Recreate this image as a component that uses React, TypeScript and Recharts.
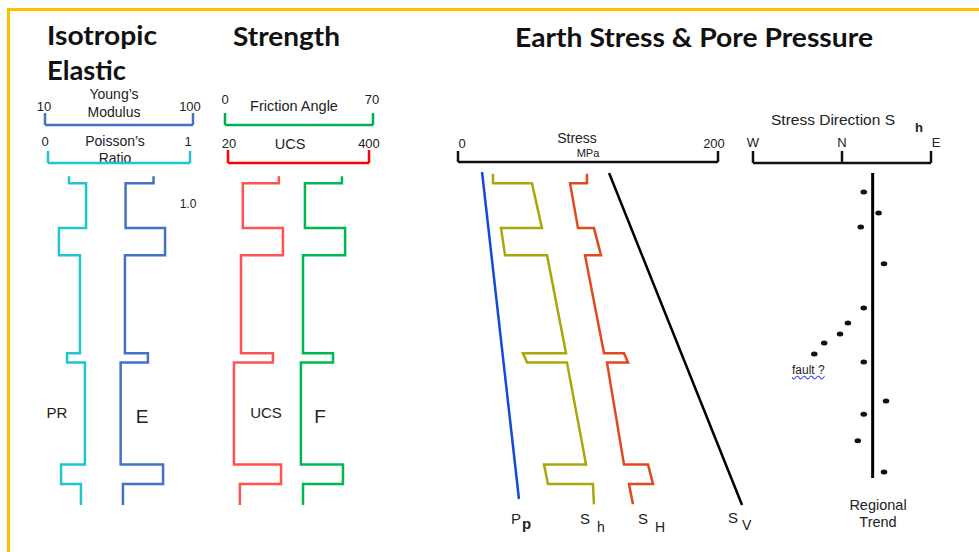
import React from 'react';
import { LineChart, ComposedChart, Line, Scatter, XAxis, YAxis } from 'recharts';

// relative depth 0 (top of section) .. 100 (base); layer boundaries shared by every track
const LAYER_BREAKS = [3.4, 16.8, 24.9, 54.3, 57.0, 87.6, 93.4];
const LOG_START = 1.3;
const LOG_END = 99.7;

// one value per layer (8 layers)
const YOUNGS_MODULUS = [76, 59, 83, 58.6, 72.6, 56, 81.8, 57.4]; // GPa
const POISSONS_RATIO = [0.148, 0.268, 0.077, 0.225, 0.134, 0.26, 0.092, 0.232];
const UCS = [157, 60, 168, 55, 141, 36, 163, 52]; // MPa
const FRICTION_ANGLE = [55.3, 37.8, 56.8, 36.9, 51.1, 35.9, 55.8, 36.9]; // deg

// stresses (MPa) at top and base of each layer
const STRESS_START = 0.5;
const STRESS_END = 99.5;
const SHMIN_TOP = [26.9, 56.9, 33.1, 68.5, 50.0, 83.8, 66.2, 103.8];
const SHMIN_BASE = [26.9, 64.6, 36.2, 83.1, 53.1, 98.5, 69.2, 104.6];
const SHMAX_TOP = [99.2, 86.2, 104.6, 97.7, 127.7, 114.6, 146.2, 131.5];
const SHMAX_BASE = [99.2, 92.3, 110.0, 112.3, 130.8, 127.7, 150.0, 134.6];
const PP_DEPTH = [0, 97.9];
const PORE_PRESSURE = [18.5, 46.9];
const SV_DEPTH = [0.3, 99.7];
const VERTICAL_STRESS = [116.2, 218.5];

// Sh azimuth, degrees from N (W = -90, E = 90)
const DIR_DEPTH = [6.0, 12.3, 16.5, 27.5, 40.7, 45.2, 48.5, 51.2, 54.5, 56.9, 68.6, 72.5, 80.5, 89.8];
const DIR_AZIMUTH = [22, 37, 19, 42.5, 22, 6, -2, -18, -28, 22, 44.5, 22, 16, 42.5];
const TREND_DEPTH = [0.3, 91.6];
const REGIONAL_TREND = 31;

const W = 979;
const H = 552;
const PLOT_TOP = 172;
const PLOT_BOTTOM = 506;
const SANS = '"Liberation Sans", Arial, sans-serif';

type Span = { lo: number; hi: number; left: number; right: number };

const E_SPAN: Span = { lo: 10, hi: 100, left: 45, right: 193 };
const PR_SPAN: Span = { lo: 0, hi: 1, left: 48, right: 190 };
const FA_SPAN: Span = { lo: 0, hi: 70, left: 225, right: 373 };
const UCS_SPAN: Span = { lo: 20, hi: 400, left: 228, right: 369 };
const STRESS_SCALE: Span = { lo: 0, hi: 200, left: 458, right: 718 };
const STRESS_PLOT: Span = { lo: 0, hi: 240, left: 458, right: 770 };
const DIR_SPAN: Span = { lo: -90, hi: 90, left: 753, right: 931 };

const layered = (start: number, end: number, top: number[], base: number[]) => {
  const edges = [start, ...LAYER_BREAKS, end];
  return top.flatMap((v, i) => [
    { depth: edges[i], value: v },
    { depth: edges[i + 1], value: base[i] },
  ]);
};
const pairs = (depths: number[], values: number[]) => depths.map((d, i) => ({ depth: d, value: values[i] }));

const abs: React.CSSProperties = { position: 'absolute', left: 0, top: 0 };

function Bracket(props: {
  span: Span; y: number; ticks: number[]; labels: string[]; color: string;
  tickSize?: number; gap?: number; dxs?: number[];
}) {
  const { span, y, ticks, labels, color, tickSize = 12, gap = 3, dxs = [] } = props;
  const width = span.right + 12;
  const renderTick = (p: any) => (
    <text x={p.x + (dxs[p.index] ?? 0)} y={p.y} textAnchor="middle" fontSize={13} fill="#222">
      {labels[p.index]}
    </text>
  );
  return (
    <div style={abs}>
      <LineChart width={width} height={y + 4} data={ticks.map((v) => ({ value: v }))}
        margin={{ top: 0, right: width - span.right, bottom: 3, left: span.left }}>
        <XAxis
          type="number"
          dataKey="value"
          orientation="top"
          domain={[span.lo, span.hi]}
          allowDataOverflow
          ticks={ticks}
          interval={0}
          height={y}
          tickSize={tickSize}
          tickMargin={gap}
          axisLine={{ stroke: color, strokeWidth: 2.5 }}
          tickLine={{ stroke: color, strokeWidth: 2.5 }}
          tick={renderTick}
        />
        <YAxis type="number" hide domain={[0, 1]} />
      </LineChart>
    </div>
  );
}

function LogTrack({ span, data, color }: { span: Span; data: { depth: number; value: number }[]; color: string }) {
  const width = span.right + 12;
  return (
    <div style={abs}>
      <LineChart layout="vertical" width={width} height={H}
        margin={{ top: PLOT_TOP, right: width - span.right, bottom: H - PLOT_BOTTOM, left: span.left }}>
        <XAxis type="number" dataKey="value" hide domain={[span.lo, span.hi]} allowDataOverflow />
        <YAxis type="number" dataKey="depth" hide domain={[0, 100]} allowDataOverflow />
        <Line data={data} dataKey="value" type="linear" stroke={color} strokeWidth={2.5} dot={false} isAnimationActive={false} />
      </LineChart>
    </div>
  );
}

const dirPoints = pairs(DIR_DEPTH, DIR_AZIMUTH);
const trend = TREND_DEPTH.map((d) => ({ depth: d, value: REGIONAL_TREND }));

const Txt = (p: any) => <text fontFamily={SANS} fill="#222" {...p} />;
const Title = (p: any) => (
  <text fontFamily="Lato, 'Open Sans', sans-serif" fontWeight={700} fontSize={26} fill="#111" lengthAdjust="spacingAndGlyphs" {...p} />
);

export default function App() {
  const stressWidth = STRESS_PLOT.right + 12;
  const dirWidth = DIR_SPAN.right + 12;
  return (
    <div style={{ position: 'absolute', left: 0, top: 0, width: W, height: H, background: '#fff', overflow: 'hidden', fontFamily: SANS }}>
      <div style={{ position: 'absolute', left: 7, top: 8, width: W, height: H, borderTop: '3px solid #FFC000', borderLeft: '3px solid #FFC000' }} />

      <svg width={W} height={H} style={abs}>
        <Title x={47} y={45} textLength={110}>Isotropic</Title>
        <Title x={47} y={80} textLength={79}>Elastic</Title>
        <Title x={233} y={46} textLength={107}>Strength</Title>
        <Title x={515} y={47} textLength={358}>Earth Stress &amp; Pore Pressure</Title>

        <Txt x={114} y={99} fontSize={14} textAnchor="middle">Young’s</Txt>
        <Txt x={114} y={117} fontSize={14} textAnchor="middle">Modulus</Txt>
        <Txt x={115} y={146} fontSize={14} textAnchor="middle">Poisson’s</Txt>
        <Txt x={115} y={163} fontSize={14} textAnchor="middle">Ratio</Txt>
        <Txt x={294} y={111} fontSize={14.5} textAnchor="middle">Friction Angle</Txt>
        <Txt x={290} y={149} fontSize={14.5} textAnchor="middle">UCS</Txt>
        <Txt x={188} y={208} fontSize={12} textAnchor="middle">1.0</Txt>

        <Txt x={57} y={418} fontSize={15} textAnchor="middle">PR</Txt>
        <Txt x={142} y={423} fontSize={19} textAnchor="middle">E</Txt>
        <Txt x={266} y={418} fontSize={15} textAnchor="middle">UCS</Txt>
        <Txt x={320} y={423} fontSize={19} textAnchor="middle">F</Txt>

        <Txt x={577} y={143} fontSize={14} textAnchor="middle">Stress</Txt>
        <Txt x={588} y={157} fontSize={11} textAnchor="middle">MPa</Txt>

        <Txt x={511} y={524} fontSize={15}>P</Txt>
        <Txt x={522} y={529} fontSize={15} fontWeight={700}>p</Txt>
        <Txt x={580} y={524} fontSize={15}>S</Txt>
        <Txt x={597} y={532} fontSize={14}>h</Txt>
        <Txt x={638} y={524} fontSize={15}>S</Txt>
        <Txt x={655} y={532} fontSize={14}>H</Txt>
        <Txt x={728} y={523} fontSize={15}>S</Txt>
        <Txt x={742} y={530} fontSize={14}>V</Txt>

        <Txt x={771} y={125} fontSize={14.5} textLength={124} lengthAdjust="spacingAndGlyphs">Stress Direction S</Txt>
        <Txt x={919} y={132} fontSize={13} fontWeight={700} textAnchor="middle">h</Txt>
        <Txt x={878} y={510} fontSize={14.5} textAnchor="middle">Regional</Txt>
        <Txt x={878} y={527} fontSize={14.5} textAnchor="middle">Trend</Txt>
      </svg>

      <div style={{ position: 'absolute', left: 792, top: 363, fontSize: 12, color: '#222', textDecoration: 'underline wavy #3355ee', lineHeight: '14px' }}>
        fault ?
      </div>

      <Bracket span={E_SPAN} y={125} ticks={[10, 100]} labels={['10', '100']} color="#4472C4" gap={2} dxs={[-1, -3]} />
      <Bracket span={PR_SPAN} y={163} ticks={[0, 1]} labels={['0', '1']} color="#1EC6D0" gap={5} dxs={[-3, -2]} />
      <Bracket span={FA_SPAN} y={125} ticks={[0, 70]} labels={['0', '70']} color="#00B050" gap={9} dxs={[0, -1]} />
      <Bracket span={UCS_SPAN} y={163} ticks={[20, 400]} labels={['20', '400']} color="#FF0000" tickSize={13} gap={2} dxs={[1, 0]} />
      <Bracket span={STRESS_SCALE} y={162} ticks={[0, 200]} labels={['0', '200']} color="#111" tickSize={11} gap={3} dxs={[4, -4]} />
      <Bracket span={DIR_SPAN} y={163} ticks={[-90, 0, 90]} labels={['W', 'N', 'E']} color="#111" gap={4} dxs={[0, 0, 5]} />

      <LogTrack span={PR_SPAN} data={layered(LOG_START, LOG_END, POISSONS_RATIO, POISSONS_RATIO)} color="#22C4CE" />
      <LogTrack span={E_SPAN} data={layered(LOG_START, LOG_END, YOUNGS_MODULUS, YOUNGS_MODULUS)} color="#4472C4" />
      <LogTrack span={UCS_SPAN} data={layered(LOG_START, LOG_END, UCS, UCS)} color="#FF5252" />
      <LogTrack span={FA_SPAN} data={layered(LOG_START, LOG_END, FRICTION_ANGLE, FRICTION_ANGLE)} color="#00B850" />

      <div style={abs}>
        <LineChart layout="vertical" width={stressWidth} height={H}
          margin={{ top: PLOT_TOP, right: stressWidth - STRESS_PLOT.right, bottom: H - PLOT_BOTTOM, left: STRESS_PLOT.left }}>
          <XAxis type="number" dataKey="value" hide domain={[STRESS_PLOT.lo, STRESS_PLOT.hi]} allowDataOverflow />
          <YAxis type="number" dataKey="depth" hide domain={[0, 100]} allowDataOverflow />
          <Line data={pairs(PP_DEPTH, PORE_PRESSURE)} dataKey="value" stroke="#1448D8" strokeWidth={2.5} dot={false} isAnimationActive={false} />
          <Line data={layered(STRESS_START, STRESS_END, SHMIN_TOP, SHMIN_BASE)} dataKey="value" stroke="#A8A80C" strokeWidth={2.5} dot={false} isAnimationActive={false} />
          <Line data={layered(STRESS_START, STRESS_END, SHMAX_TOP, SHMAX_BASE)} dataKey="value" stroke="#E2481E" strokeWidth={2.5} dot={false} isAnimationActive={false} />
          <Line data={pairs(SV_DEPTH, VERTICAL_STRESS)} dataKey="value" stroke="#000" strokeWidth={2.5} dot={false} isAnimationActive={false} />
        </LineChart>
      </div>

      <div style={abs}>
        <ComposedChart layout="vertical" width={dirWidth} height={H}
          margin={{ top: PLOT_TOP, right: dirWidth - DIR_SPAN.right, bottom: H - PLOT_BOTTOM, left: DIR_SPAN.left }}>
          <XAxis type="number" dataKey="value" hide domain={[DIR_SPAN.lo, DIR_SPAN.hi]} allowDataOverflow />
          <YAxis type="number" dataKey="depth" hide domain={[0, 100]} allowDataOverflow />
          <Line data={trend} dataKey="value" stroke="#000" strokeWidth={3} dot={false} isAnimationActive={false} />
          <Scatter data={dirPoints} dataKey="value" isAnimationActive={false}
            shape={(p: any) => <ellipse cx={p.cx} cy={p.cy} rx={3.3} ry={2.5} fill="#111" />} />
        </ComposedChart>
      </div>
    </div>
  );
}
